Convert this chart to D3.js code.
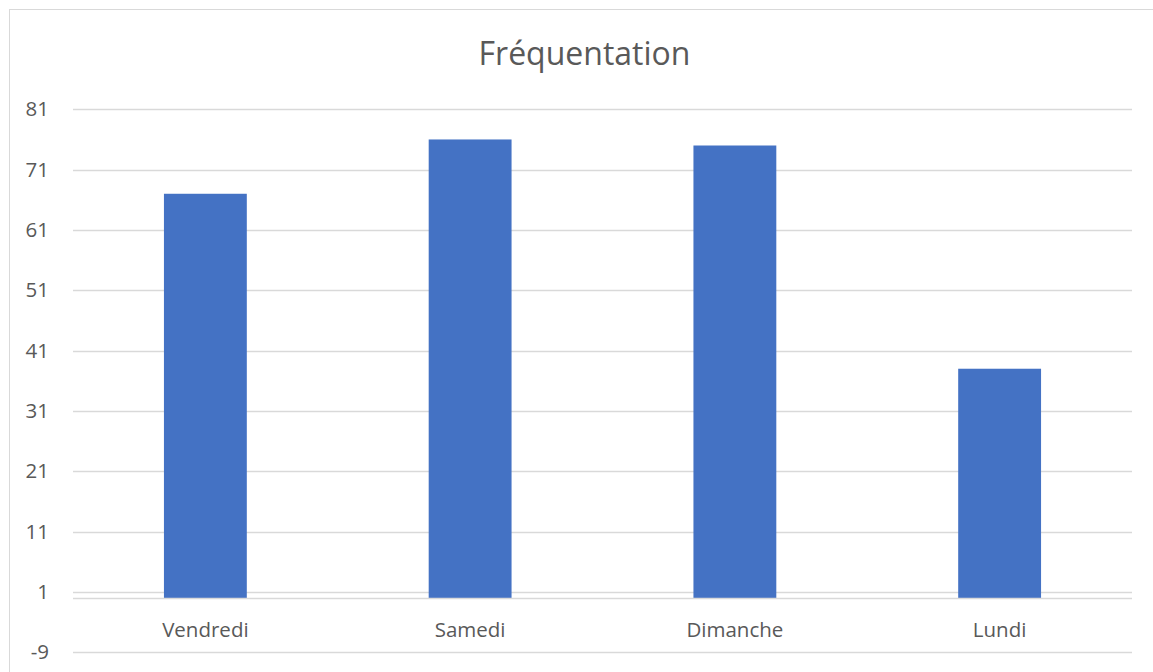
<!DOCTYPE html>
<html>
<head>
<meta charset="utf-8">
<script src="https://cdn.jsdelivr.net/npm/d3@7"></script>
<style>
  html, body { margin: 0; padding: 0; background: #fff; }
  svg { display: block; }
</style>
</head>
<body>
<svg id="chart" width="1153" height="672"></svg>
<script>
const title = "Fréquentation";
const categories = ["Vendredi", "Samedi", "Dimanche", "Lundi"];
const values = [67, 76, 75, 38];
const yTicks = [-9, 1, 11, 21, 31, 41, 51, 61, 71, 81];

(function () {
const svg = d3.select("#chart");
const W = 1153, H = 672;
const font = "'Open Sans', 'Liberation Sans', sans-serif";
const textColor = "#595959";

// outer frame
svg.append("rect")
  .attr("x", 9.5).attr("y", 9.5)
  .attr("width", W).attr("height", H)
  .attr("fill", "#fff").attr("stroke", "#d9d9d9").attr("stroke-width", 1);

const pLeft = 73, pRight = 1132, pTop = 109.3, pBottom = 652.3;

const y = d3.scaleLinear().domain([-9, 81]).range([pBottom, pTop]);
const x = d3.scaleBand().domain(categories).range([pLeft, pRight]).paddingInner(0.687).paddingOuter(0.3435);

// gridlines
svg.append("g").selectAll("line").data(yTicks).join("line")
  .attr("x1", pLeft).attr("x2", pRight)
  .attr("y1", d => Math.round(y(d)) + 0.5).attr("y2", d => Math.round(y(d)) + 0.5)
  .attr("stroke", "#d9d9d9").attr("stroke-width", 1.3);

// y tick labels
const yAxis = d3.axisLeft(y).tickValues(yTicks).tickSize(0).tickPadding(0).tickFormat(d => String(d));
const gy = svg.append("g").attr("transform", `translate(49,0)`).call(yAxis);
gy.select(".domain").remove();
gy.selectAll("text").attr("font-family", font).attr("font-size", 20.5).attr("fill", textColor);

// bars
svg.append("g").selectAll("rect").data(values).join("rect")
  .attr("x", (d, i) => x(categories[i]))
  .attr("width", x.bandwidth())
  .attr("y", d => y(d))
  .attr("height", d => y(0) - y(d))
  .attr("fill", "#4472c4");

// zero axis line
svg.append("line")
  .attr("x1", pLeft).attr("x2", pRight)
  .attr("y1", Math.round(y(0)) + 0.5).attr("y2", Math.round(y(0)) + 0.5)
  .attr("stroke", "#d9d9d9").attr("stroke-width", 1.3);

// category labels
const xAxis = d3.axisBottom(x).tickSize(0).tickPadding(0);
const gx = svg.append("g").attr("transform", `translate(0,${y(0)})`).call(xAxis);
gx.select(".domain").remove();
gx.selectAll("text").attr("font-family", font).attr("font-size", 20.5).attr("fill", textColor)
  .attr("dy", null).attr("y", 39);

// title
svg.append("text")
  .attr("x", 584.5).attr("y", 65)
  .attr("text-anchor", "middle")
  .attr("font-family", font).attr("font-size", 32)
  .attr("fill", textColor)
  .text(title);
})();
</script>
</body>
</html>
